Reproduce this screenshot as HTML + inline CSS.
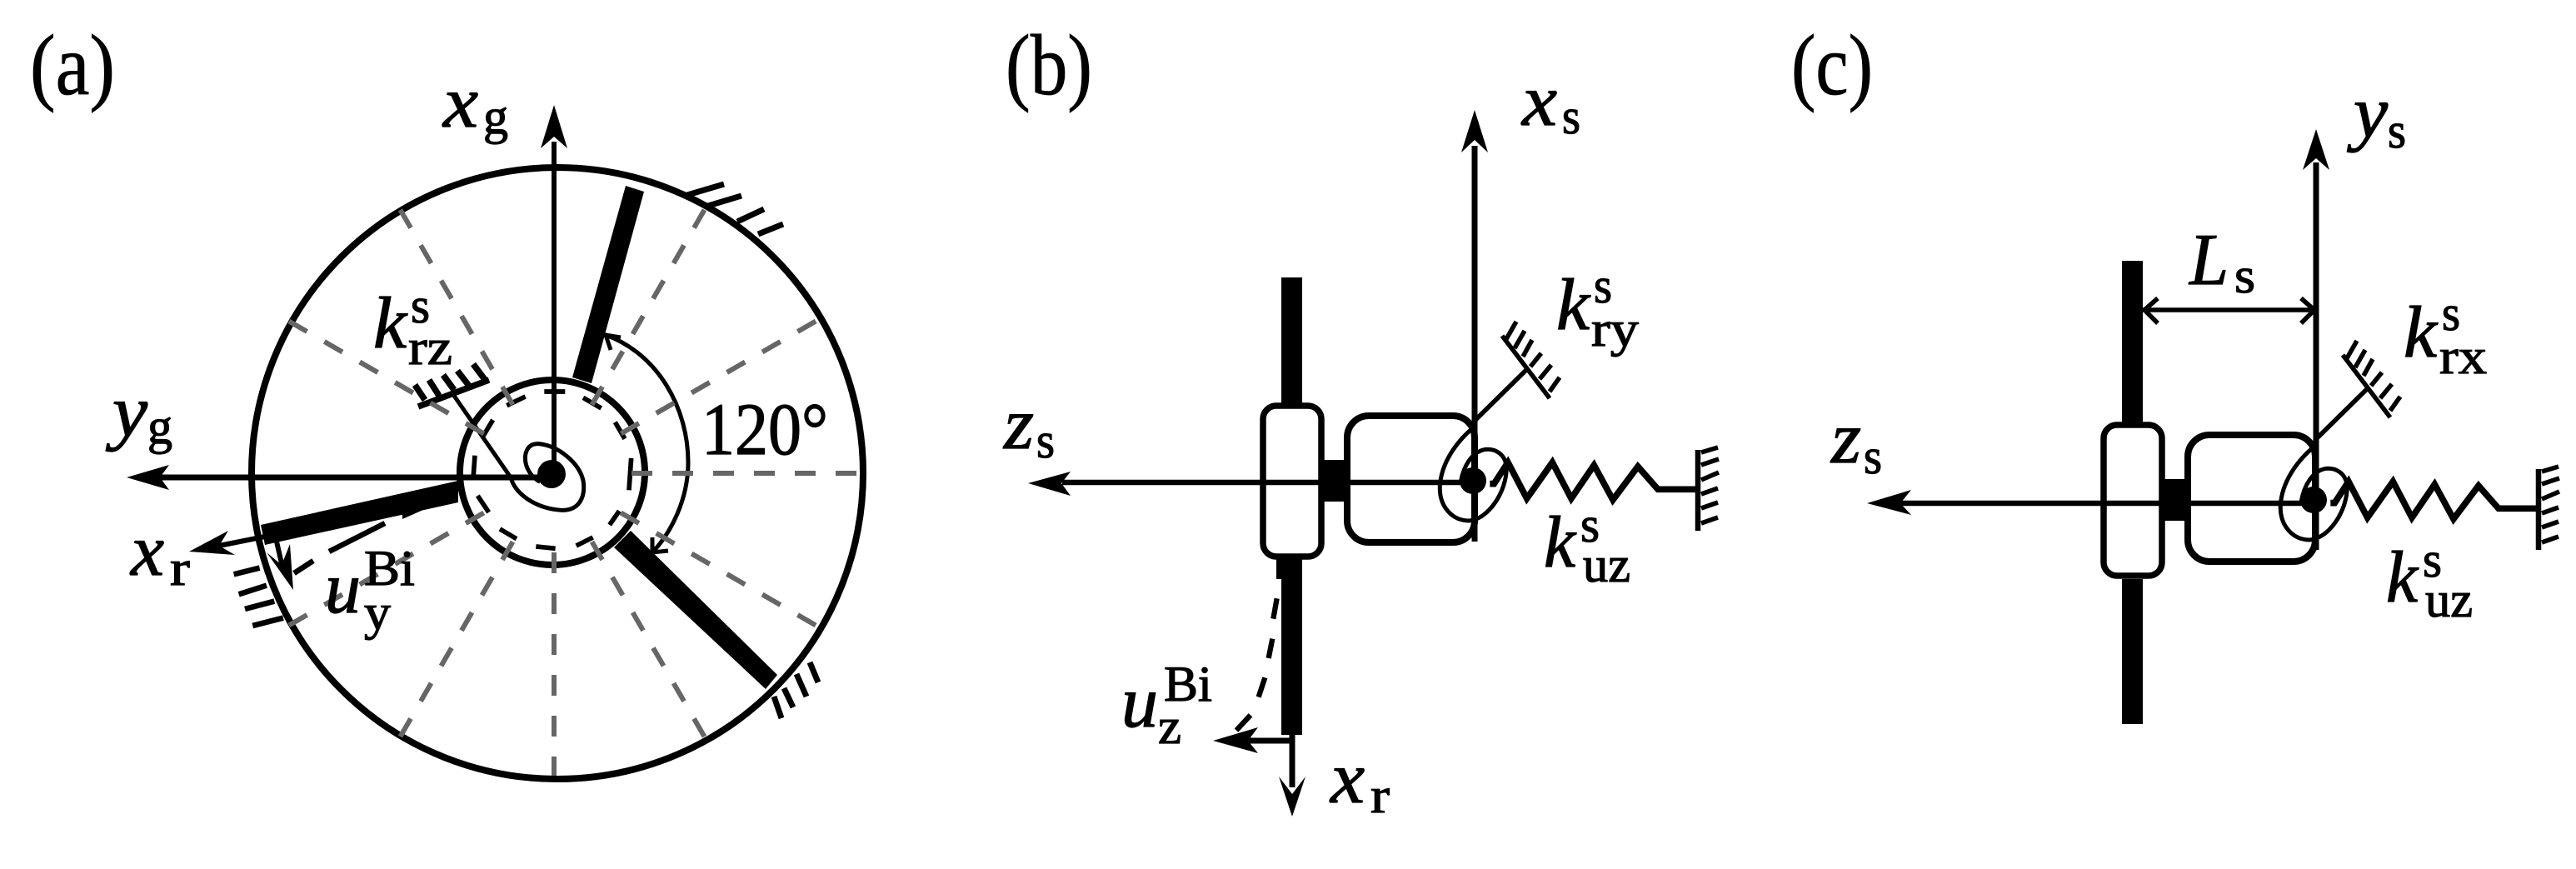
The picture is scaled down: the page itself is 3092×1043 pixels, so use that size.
<!DOCTYPE html>
<html><head><meta charset="utf-8"><style>
html,body{margin:0;padding:0;background:#fff}
svg{display:block}
text{font-family:"Liberation Serif",serif;fill:#000;stroke:#000;stroke-width:1.2px}
.m{font-style:italic;font-size:88px}
.s{font-size:60px}
.b{font-size:104px;stroke-width:.8px}
</style></head><body>
<svg width="3092" height="1043" viewBox="0 0 3092 1043" xmlns="http://www.w3.org/2000/svg">
<rect width="3092" height="1043" fill="#fff"/>

<!-- PANEL A -->
<g fill="none" stroke="#000">
<circle cx="669" cy="568" r="367" stroke-width="8"/>
<circle cx="663" cy="567" r="111" stroke-width="8"/>
<!-- inner dashes -->
<g transform="translate(500,400) scale(.3333)" stroke-width="17">
<path d="M460 210H535M600 232L665 270M715 320L750 380M773 450L765 565M730 640L695 690M635 735L575 765M500 775L430 768M360 740L300 705M260 645L220 585M210 440L205 510M240 370L275 312M325 260L392 228"/>
</g>
<!-- hatches -->
<g stroke-width="7">
<path d="M825 234L869 221M850 247L890 235M885 266L917 251M910 281L940 269"/>
<path d="M938 862L929 836M952 849L941 826M968 836L956 809M982 819L972 795"/>
<g transform="translate(130,350) scale(.3333)" stroke-width="20">
<path d="M452 1018L545 995M470 1090L570 1058M492 1143L598 1115M520 1203L630 1175"/>
</g>
<path d="M502 488L587 456" stroke-width="7.5"/>
<path d="M498 462L510 480M515 456L527 475M532 450L545 468M549 445L563 463M568 437L583 457" stroke-width="7.5"/>
</g>
<!-- stem + spiral -->
<path d="M545 475L613 573" stroke-width="5"/>
<g transform="translate(500,400) scale(.3333)" stroke-width="15">
<path d="M340 520C350 570 420 630 520 637C585 640 610 590 600 530C585 465 510 405 440 398C395 395 385 440 395 475C405 505 425 525 445 535"/>
</g>
<!-- 120 arc -->
<path d="M727 402C790 425 826 490 826 555C826 600 805 640 783 663" stroke-width="5"/>
<path d="M733 420L727 402L745 405M783 645L783 663L802 661" stroke-width="5"/>
<!-- dashed uy -->
<path d="M395 662L462 628M353 688L376 673" stroke-width="6.5"/>
</g>

<!-- rods a -->
<g fill="#000" stroke="none">
<polygon points="687,453 710,460 773,230 751,223"/>
<polygon points="737,657 757,637 933,810 919,827"/>
<polygon points="313,630 318,654 550,603 550,577"/>
<polygon points="483,610 483,623 517,608"/>
<circle cx="662" cy="569" r="17"/>
</g>

<!-- axes a -->
<g stroke="#000" fill="none">
<path d="M665 569V170" stroke-width="6"/>
<path d="M662 573H190" stroke-width="7"/>
<path d="M263 655L318 644" stroke-width="6"/>
<path d="M332 650L340 685" stroke-width="6"/>
</g>
<g fill="#000">
<polygon points="665,126 649,178 665,164 681,178"/>
<polygon points="152,573 203,558 192,573 203,588"/>
<polygon points="227,662 274,637 263,655 282,666"/>
<polygon points="352,708 320,663 338,678 348,653"/>
</g>

<!-- gray spokes -->
<g stroke="#666" stroke-width="6" stroke-dasharray="25 24" fill="none">
<path d="M758 568H1028"/>
<path d="M758 568H1028" transform="rotate(-30 663 568)"/>
<path d="M758 568H1028" transform="rotate(-60 663 568)"/>
<path d="M758 568H1028" transform="rotate(-120 663 568)"/>
<path d="M758 568H1028" transform="rotate(-150 663 568)"/>
<path d="M758 568H1028" transform="rotate(30 663 568)"/>
<path d="M758 568H1028" transform="rotate(60 663 568)"/>
<path d="M760 568H1028" transform="rotate(90 665 568)"/>
<path d="M758 568H1028" transform="rotate(120 663 568)"/>
<path d="M758 568H1028" transform="rotate(150 663 568)"/>
</g>

<!-- PANEL B -->
<rect x="1538" y="333" width="25" height="549" fill="#000"/>
<rect x="1532" y="671" width="10" height="24" fill="#000"/>
<path d="M1551 882V945" stroke="#000" stroke-width="7"/>
<path d="M1551 889H1495" stroke="#000" stroke-width="7"/>
<polygon points="1551,980 1535,932 1551,953 1567,932" fill="#000"/>
<polygon points="1456,889 1510,873 1498,889 1510,904" fill="#000"/>
<g transform="translate(1420,680) scale(.3333)" fill="none" stroke="#000" stroke-width="19">
<path d="M338 115L325 188M322 260L308 330M295 400L272 470M243 535L192 590"/>
</g>

<g id="assy">
<rect x="1516" y="487" width="70" height="181" rx="16" fill="#fff" stroke="#000" stroke-width="7.5"/>
<rect x="1589" y="552" width="25" height="50" fill="#000"/>
<rect x="1617" y="499" width="153" height="152" rx="26" fill="none" stroke="#000" stroke-width="8"/>
<g fill="none" stroke="#000">
<g transform="translate(1480,450) scale(.3333)" stroke-width="15">
<path d="M865 190C800 245 750 320 745 400C742 475 790 525 850 525C920 520 985 420 985 335C982 285 945 265 910 268C860 275 830 330 820 385"/>
</g>
<g transform="translate(1750,300) scale(.3333)" stroke-width="23">
<path d="M115 842H130L180 765L248 895L340 765L408 895L490 775L558 900L648 780L720 862H855"/>
</g>
<path d="M2038 540V637" stroke-width="6.5"/>
<g stroke-width="5.5">
<path d="M2042 543L2062 537M2042 558L2063 551M2042 576L2063 567M2042 593L2062 586M2042 610L2062 603M2042 628L2062 621"/>
<path d="M1770 505L1833 443"/>
<path d="M1803 403L1860 478"/>
<path d="M1808 407L1820 386M1818 418L1830 397M1828 428L1839 408M1837 440L1850 424M1848 455L1862 438M1860 470L1872 453"/>
</g>
</g>
<circle cx="1768" cy="577" r="16" fill="#000"/>
</g>
<path d="M1275 579H1770" stroke="#000" stroke-width="6.5"/>
<path d="M1770 175V650" stroke="#000" stroke-width="7"/>
<polygon points="1770,132 1754,183 1770,168 1786,183" fill="#000"/>
<polygon points="1234,580 1285,566 1274,580 1285,595" fill="#000"/>

<!-- PANEL C -->
<rect x="2547" y="313" width="25" height="195" fill="#000"/>
<rect x="2547" y="695" width="25" height="174" fill="#000"/>
<use href="#assy" transform="translate(1009,23)"/>
<path d="M2281 604H2779" stroke="#000" stroke-width="6.5"/>
<path d="M2780 195V660" stroke="#000" stroke-width="7"/>
<polygon points="2780,155 2764,204 2780,190 2796,204" fill="#000"/>
<polygon points="2241,604 2294,588 2281,604 2294,618" fill="#000"/>
<path d="M2572 372H2780M2590 358L2574 372L2590 388M2762 358L2778 372L2762 388" fill="none" stroke="#000" stroke-width="5.5"/>

<!-- TEXT -->
<g>
<text class="b" x="36" y="113" textLength="102" lengthAdjust="spacingAndGlyphs">(a)</text>
<text class="b" x="1207" y="113" textLength="104" lengthAdjust="spacingAndGlyphs">(b)</text>
<text class="b" x="2150" y="113" textLength="98" lengthAdjust="spacingAndGlyphs">(c)</text>

<text class="m" x="532" y="152" textLength="42" lengthAdjust="spacingAndGlyphs">x</text>
<text class="s" x="580" y="160" textLength="30" lengthAdjust="spacingAndGlyphs">g</text>
<text class="m" x="135" y="523" textLength="42" lengthAdjust="spacingAndGlyphs">y</text>
<text class="s" x="177" y="532" textLength="30" lengthAdjust="spacingAndGlyphs">g</text>
<text class="m" x="157" y="690" textLength="40" lengthAdjust="spacingAndGlyphs">x</text>
<text class="s" x="204" y="702" textLength="24" lengthAdjust="spacingAndGlyphs">r</text>
<text class="m" x="390" y="735" textLength="43" lengthAdjust="spacingAndGlyphs">u</text>
<text class="s" x="437" y="702" textLength="61" lengthAdjust="spacingAndGlyphs">Bi</text>
<text class="s" x="437" y="755" textLength="32" lengthAdjust="spacingAndGlyphs">y</text>
<text class="m" x="448" y="417" textLength="40" lengthAdjust="spacingAndGlyphs">k</text>
<text class="s" x="493" y="387" textLength="23" lengthAdjust="spacingAndGlyphs">s</text>
<text class="s" x="490" y="437" textLength="53" lengthAdjust="spacingAndGlyphs">rz</text>
<text x="842" y="545" style="font-size:89px" textLength="152" lengthAdjust="spacingAndGlyphs">120°</text>

<text class="m" x="1827" y="150" textLength="42" lengthAdjust="spacingAndGlyphs">x</text>
<text class="s" x="1875" y="160" textLength="22" lengthAdjust="spacingAndGlyphs">s</text>
<text class="m" x="1205" y="538" textLength="36" lengthAdjust="spacingAndGlyphs">z</text>
<text class="s" x="1244" y="549" textLength="22" lengthAdjust="spacingAndGlyphs">s</text>
<text class="m" x="1868" y="395" textLength="40" lengthAdjust="spacingAndGlyphs">k</text>
<text class="s" x="1913" y="363" textLength="22" lengthAdjust="spacingAndGlyphs">s</text>
<text class="s" x="1910" y="415" textLength="57" lengthAdjust="spacingAndGlyphs">ry</text>
<text class="m" x="1853" y="680" textLength="38" lengthAdjust="spacingAndGlyphs">k</text>
<text class="s" x="1897" y="650" textLength="23" lengthAdjust="spacingAndGlyphs">s</text>
<text class="s" x="1900" y="698" textLength="57" lengthAdjust="spacingAndGlyphs">uz</text>
<text class="m" x="1346" y="872" textLength="44" lengthAdjust="spacingAndGlyphs">u</text>
<text class="s" x="1397" y="841" textLength="58" lengthAdjust="spacingAndGlyphs">Bi</text>
<text class="s" x="1390" y="892" textLength="28" lengthAdjust="spacingAndGlyphs">z</text>
<text class="m" x="1597" y="963" textLength="41" lengthAdjust="spacingAndGlyphs">x</text>
<text class="s" x="1645" y="975" textLength="23" lengthAdjust="spacingAndGlyphs">r</text>

<text class="m" x="2825" y="164" textLength="41" lengthAdjust="spacingAndGlyphs">y</text>
<text class="s" x="2866" y="177" textLength="22" lengthAdjust="spacingAndGlyphs">s</text>
<text class="m" x="2198" y="555" textLength="36" lengthAdjust="spacingAndGlyphs">z</text>
<text class="s" x="2237" y="568" textLength="22" lengthAdjust="spacingAndGlyphs">s</text>
<text class="m" x="2628" y="341" textLength="47" lengthAdjust="spacingAndGlyphs">L</text>
<text class="s" x="2682" y="351" textLength="25" lengthAdjust="spacingAndGlyphs">s</text>
<text class="m" x="2885" y="428" textLength="40" lengthAdjust="spacingAndGlyphs">k</text>
<text class="s" x="2931" y="396" textLength="22" lengthAdjust="spacingAndGlyphs">s</text>
<text class="s" x="2928" y="448" textLength="57" lengthAdjust="spacingAndGlyphs">rx</text>
<text class="m" x="2864" y="722" textLength="38" lengthAdjust="spacingAndGlyphs">k</text>
<text class="s" x="2908" y="692" textLength="23" lengthAdjust="spacingAndGlyphs">s</text>
<text class="s" x="2911" y="740" textLength="57" lengthAdjust="spacingAndGlyphs">uz</text>
</g>
</svg>
</body></html>
